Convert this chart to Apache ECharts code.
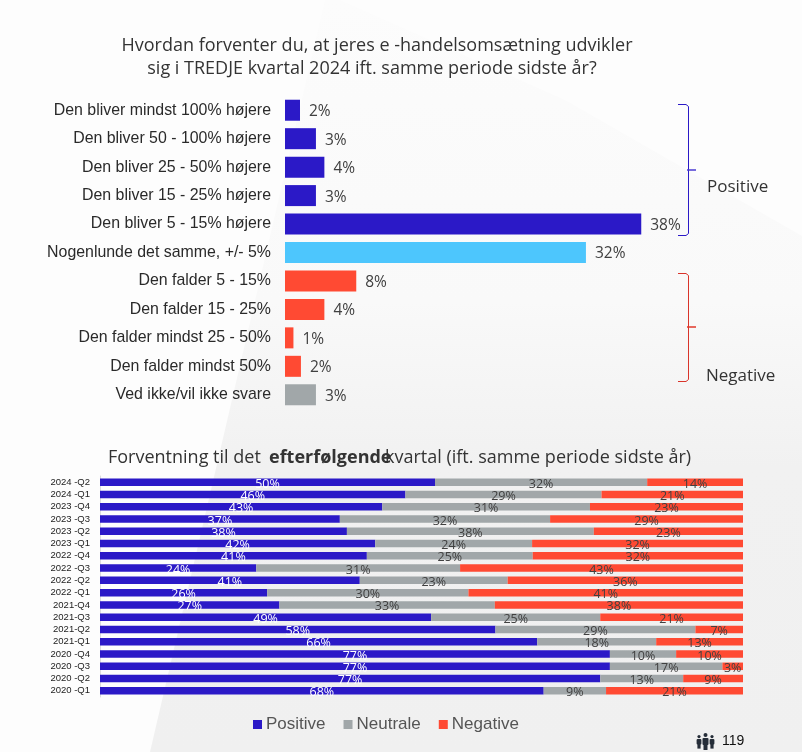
<!DOCTYPE html>
<html>
<head>
<meta charset="utf-8">
<style>
    html, body { margin: 0; padding: 0; background: #f1f1f1; }
    #chart { width: 802px; height: 752px; }
</style>
<script src="https://cdn.jsdelivr.net/npm/echarts@6/dist/echarts.min.js"></script>
</head>
<body>
<div id="chart"></div>
<script>
// top chart
const answers = ["Den bliver mindst 100% højere", "Den bliver 50 - 100% højere", "Den bliver 25 - 50% højere",
    "Den bliver 15 - 25% højere", "Den bliver 5 - 15% højere", "Nogenlunde det samme, +/- 5%", "Den falder 5 - 15%",
    "Den falder 15 - 25%", "Den falder mindst 25 - 50%", "Den falder mindst 50%", "Ved ikke/vil ikke svare"];
const answerValues = [1.6, 3.3, 4.2, 3.3, 38, 32.1, 7.6, 4.2, 0.9, 1.7, 3.3];
const answerColors = ["#2b19c7", "#2b19c7", "#2b19c7", "#2b19c7", "#2b19c7", "#4dc6fd", "#ff4a33", "#ff4a33", "#ff4a33", "#ff4a33", "#a1a7a9"];

// bottom chart, printed labels
const quarters = ["2024 -Q2", "2024 -Q1", "2023 -Q4", "2023 -Q3", "2023 -Q2", "2023 -Q1", "2022 -Q4", "2022 -Q3", "2022 -Q2",
    "2022 -Q1", "2021-Q4", "2021-Q3", "2021-Q2", "2021-Q1", "2020 -Q4", "2020 -Q3", "2020 -Q2", "2020 -Q1"];
const positive = [50, 46, 43, 37, 38, 42, 41, 24, 41, 26, 27, 49, 58, 66, 77, 77, 77, 68];
const neutral = [32, 29, 31, 32, 38, 24, 25, 31, 23, 30, 33, 25, 29, 18, 10, 17, 13, 9];
const negative = [14, 21, 23, 29, 23, 32, 32, 43, 36, 41, 38, 21, 7, 13, 10, 3, 9, 21];

// bottom chart, bar lengths (the printed labels do not add up to 100)
const positiveBars = [52.1, 47.5, 43.9, 37.3, 38.4, 42.8, 41.5, 24.3, 40.4, 26.0, 27.9, 51.5, 61.5, 68.0, 79.3, 79.3, 77.8, 69.0];
const neutralBars = [33.0, 30.5, 32.3, 32.7, 38.4, 24.4, 25.8, 31.7, 23.0, 31.3, 33.5, 26.3, 31.1, 18.5, 10.3, 17.5, 12.9, 9.7];
const negativeBars = [14.9, 22.0, 23.8, 30.0, 23.2, 32.8, 32.7, 44.0, 36.6, 42.7, 38.6, 22.2, 7.4, 13.5, 10.4, 3.2, 9.3, 21.3];

const textFont = '"Open Sans", sans-serif';
const plainFont = '"Liberation Sans", Arial, sans-serif';

let stackSeries = (name, bars, labels, color, labelColor) => ({
    name: name,
    type: "bar",
    xAxisIndex: 1,
    yAxisIndex: 1,
    stack: "all",
    barWidth: 7.5,
    data: bars,
    itemStyle: { color: color },
    label: {
        show: true,
        position: "inside",
        offset: [0, 2],
        color: labelColor,
        fontFamily: textFont,
        fontSize: 12.5,
        formatter: (p) => labels[p.dataIndex] + "%"
    }
});

let bracket = (top, bottom, color) => ({
    type: "polyline",
    shape: { points: [[678, top], [686, top], [688.5, top + 2], [688.5, bottom - 2], [686, bottom], [678, bottom]] },
    style: { stroke: color, fill: null, lineWidth: 1 }
});

let line = (x1, y1, x2, y2, color) => ({
    type: "line",
    shape: { x1: x1, y1: y1, x2: x2, y2: y2 },
    style: { stroke: color, lineWidth: 1.5 }
});

let label = (x, y, text, size, weight, align) => ({
    type: "text",
    x: x,
    y: y,
    style: {
        text: text,
        fill: "#333333",
        font: `${weight || "normal"} ${size}px ${textFont}`,
        textAlign: align || "left",
        textVerticalAlign: "middle"
    }
});

let person = (x, y, s) => ({
    type: "group",
    children: [
        { type: "circle", shape: { cx: x, cy: y + 2 * s, r: 2 * s }, style: { fill: "#252d38" } },
        { type: "rect", shape: { x: x - 3 * s, y: y + 5 * s, width: 6 * s, height: 7 * s, r: 1 }, style: { fill: "#252d38" } },
        { type: "rect", shape: { x: x - 2 * s, y: y + 11 * s, width: 4 * s, height: 6 * s }, style: { fill: "#252d38" } }
    ]
});

let myChart = echarts.init(document.getElementById("chart"));
myChart.setOption({
    animation: false,
    backgroundColor: "#f1f1f1",
    grid: [
        { left: 285, top: 96, width: 375, height: 313 },
        { left: 100, top: 476, width: 643, height: 221 }
    ],
    xAxis: [
        { gridIndex: 0, type: "value", min: 0, max: 40, show: false },
        { gridIndex: 1, type: "value", min: 0, max: 100, show: false }
    ],
    yAxis: [
        {
            gridIndex: 0,
            type: "category",
            inverse: true,
            data: answers,
            axisLine: { show: false },
            axisTick: { show: false },
            axisLabel: { color: "#2a2a2a", fontFamily: plainFont, fontSize: 15.9, margin: 14, padding: [0, 0, 2, 0] }
        },
        {
            gridIndex: 1,
            type: "category",
            inverse: true,
            data: quarters,
            axisLine: { lineStyle: { color: "#dddddd", width: 1 } },
            axisTick: { show: false },
            axisLabel: { color: "#222222", fontFamily: plainFont, fontSize: 9.5, margin: 10, interval: 0 }
        }
    ],
    legend: {
        data: ["Positive", "Neutrale", "Negative"],
        left: 253,
        top: 716,
        padding: 0,
        itemWidth: 9,
        itemHeight: 9,
        itemGap: 18,
        icon: "rect",
        textStyle: { color: "#555555", fontFamily: plainFont, fontSize: 17, padding: [0, 0, 0, -1] }
    },
    series: [
        {
            name: "Svar",
            type: "bar",
            barWidth: 21,
            data: answerValues.map((v, i) => ({ value: v, itemStyle: { color: answerColors[i] } })),
            label: {
                show: true,
                position: "right",
                distance: 9,
                offset: [0, 1.5],
                color: "#404040",
                fontFamily: textFont,
                fontSize: 15.5,
                formatter: (p) => Math.round(p.value) + "%"
            }
        },
        stackSeries("Positive", positiveBars, positive, "#2b19c7", "#ffffff"),
        stackSeries("Neutrale", neutralBars, neutral, "#a1a7a9", "#404040"),
        stackSeries("Negative", negativeBars, negative, "#ff4a33", "#404040")
    ],
    graphic: [
        // baggrund
        { type: "rect", z: -10, silent: true, shape: { x: 0, y: 0, width: 802, height: 752 }, style: { fill: "#fdfdfd" } },
        {
            type: "polygon", z: -9, silent: true,
            shape: { points: [[325, 0], [340, 0], [565, 100], [802, 236], [802, 752], [150, 752]] },
            style: {
                fill: new echarts.graphic.LinearGradient(0, 0, 0, 1, [
                    { offset: 0, color: "#fcfcfc" }, { offset: 0.4, color: "#f9f9f9" }, { offset: 0.62, color: "#f1f1f1" }, { offset: 1, color: "#f0f0f0" }
                ])
            }
        },
        // titler
        label(377, 46, "Hvordan forventer du, at jeres e -handelsomsætning udvikler", 18, "normal", "center"),
        label(372, 69, "sig i TREDJE kvartal 2024 ift. samme periode sidste år?", 18, "normal", "center"),
        label(108, 458, "Forventning til det", 18),
        label(269, 458, "efterfølgende", 18, "bold"),
        label(385, 458, "kvartal (ift. samme periode sidste år)", 18),
        // klammer
        bracket(104.5, 235.5, "#2b19c7"),
        line(687, 170, 696, 170, "#4a3ad0"),
        label(707, 187, "Positive", 17),
        bracket(273.5, 381.5, "#d9342a"),
        line(687, 327, 696, 327, "#e0392b"),
        label(706, 376, "Negative", 17),
        // antal svar
        person(699, 735, 0.8),
        person(712, 735, 0.8),
        person(705.5, 733, 1),
        { type: "text", x: 722, y: 741, style: { text: "119", fill: "#111111", font: '14px "Liberation Sans", Arial, sans-serif', textVerticalAlign: "middle" } }
    ]
});
</script>
</body>
</html>
